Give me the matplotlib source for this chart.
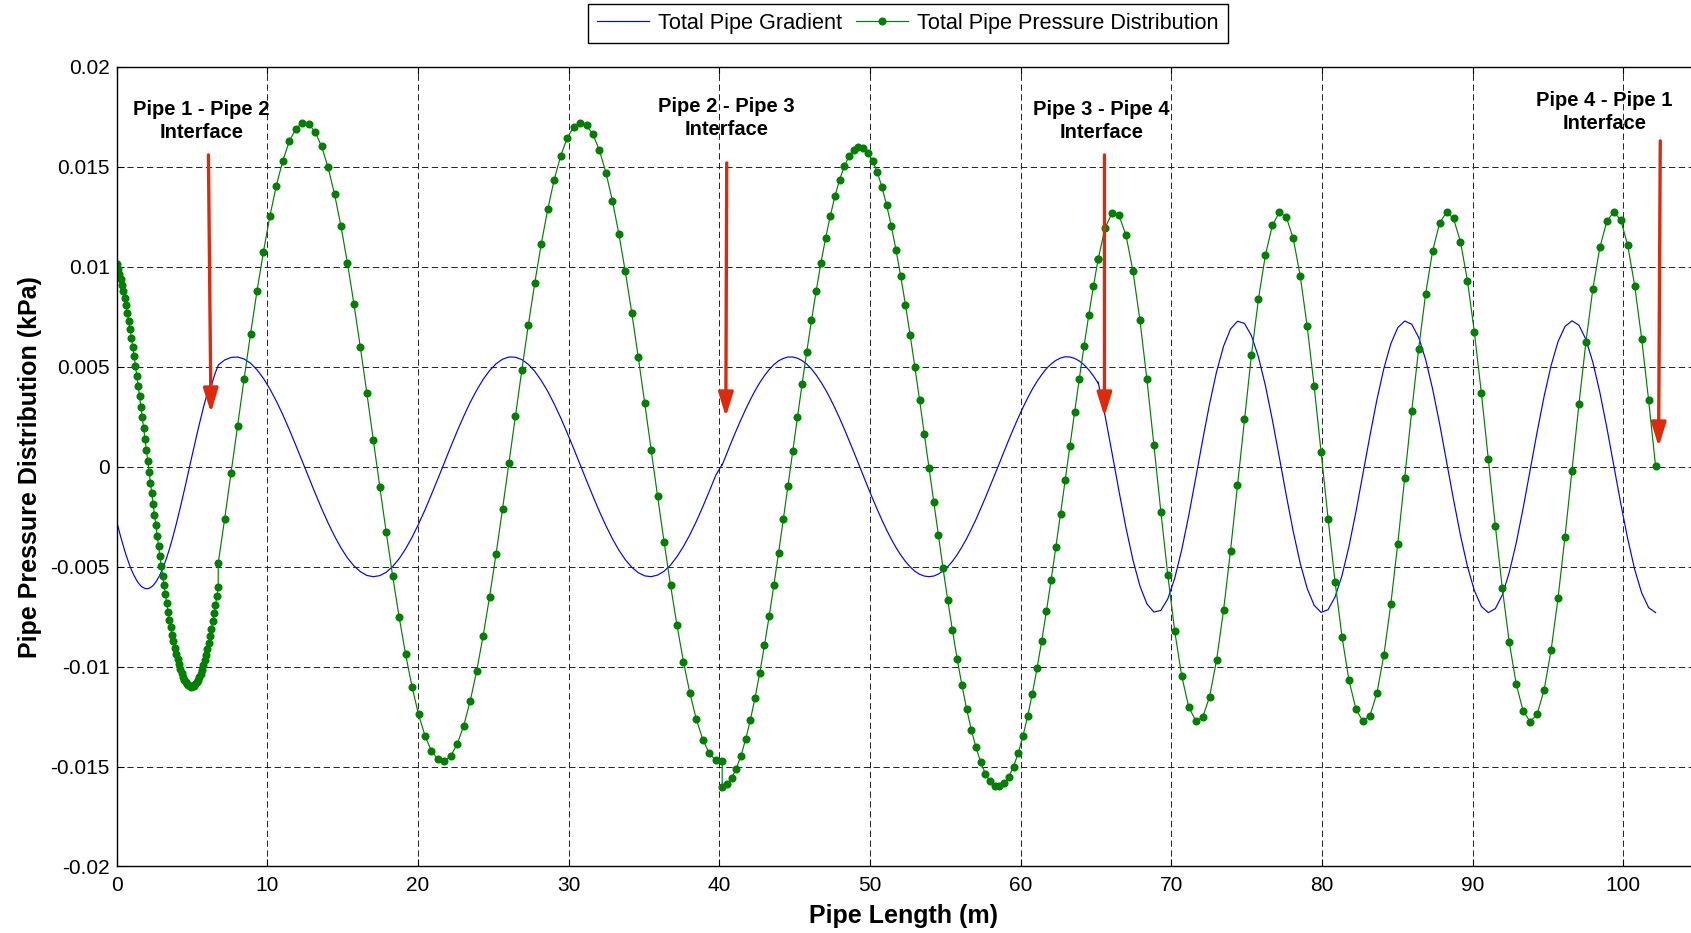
import numpy as np
import matplotlib.pyplot as plt
from matplotlib.ticker import FuncFormatter

plt.rcParams['font.family'] = ['Liberation Sans', 'DejaVu Sans']
plt.rcParams['axes.unicode_minus'] = False

# pipe sections along the loop: start / end (m) and samples per section
seg_start = [0.0, 6.75, 40.2, 65.15]
seg_end = [6.75, 40.2, 65.15, 102.15]
seg_n = [76, 79, 81, 81]

# Total Pipe Pressure Distribution (kPa), per section
seg1_green = [0.01014, 0.00991, 0.00966, 0.00939, 0.00909, 0.00877, 0.00843, 0.00807, 0.00769, 0.00729,
              0.00687, 0.00644, 0.00599, 0.00552, 0.00504, 0.00454, 0.00404, 0.00353, 0.00300, 0.00247,
              0.00194, 0.00140, 0.00085, 0.00030, -0.00024, -0.00079, -0.00133, -0.00188, -0.00241, -0.00294,
              -0.00347, -0.00398, -0.00449, -0.00498, -0.00546, -0.00593, -0.00639, -0.00682, -0.00725, -0.00765,
              -0.00803, -0.00840, -0.00874, -0.00906, -0.00936, -0.00964, -0.00989, -0.01011, -0.01032, -0.01050,
              -0.01065, -0.01077, -0.01087, -0.01094, -0.01098, -0.01100, -0.01099, -0.01095, -0.01089, -0.01079,
              -0.01068, -0.01053, -0.01036, -0.01016, -0.00994, -0.00969, -0.00942, -0.00913, -0.00881, -0.00847,
              -0.00812, -0.00774, -0.00734, -0.00692, -0.00649, -0.00604]
seg2_green = [-0.00483, -0.00260, -0.00029, 0.00205, 0.00438, 0.00664, 0.00878, 0.01076, 0.01254, 0.01407,
              0.01532, 0.01628, 0.01691, 0.01720, 0.01715, 0.01675, 0.01603, 0.01498, 0.01364, 0.01203,
              0.01019, 0.00815, 0.00597, 0.00369, 0.00135, -0.00099, -0.00328, -0.00547, -0.00752, -0.00938,
              -0.01102, -0.01239, -0.01346, -0.01422, -0.01464, -0.01473, -0.01447, -0.01387, -0.01295, -0.01172,
              -0.01022, -0.00846, -0.00650, -0.00437, -0.00212, 0.00020, 0.00255, 0.00486, 0.00710, 0.00921,
              0.01116, 0.01288, 0.01436, 0.01555, 0.01644, 0.01700, 0.01722, 0.01709, 0.01663, 0.01583,
              0.01472, 0.01332, 0.01166, 0.00977, 0.00771, 0.00550, 0.00320, 0.00086, -0.00148, -0.00375,
              -0.00592, -0.00793, -0.00975, -0.01133, -0.01264, -0.01365, -0.01434, -0.01469, -0.01470]
seg3_green = [-0.01600, -0.01588, -0.01558, -0.01510, -0.01445, -0.01363, -0.01266, -0.01155, -0.01030, -0.00893,
              -0.00747, -0.00592, -0.00430, -0.00264, -0.00094, 0.00077, 0.00247, 0.00414, 0.00576, 0.00732,
              0.00880, 0.01018, 0.01143, 0.01255, 0.01354, 0.01437, 0.01504, 0.01554, 0.01586, 0.01599,
              0.01595, 0.01572, 0.01532, 0.01474, 0.01399, 0.01308, 0.01203, 0.01083, 0.00952, 0.00810,
              0.00658, 0.00499, 0.00334, 0.00165, -0.00005, -0.00176, -0.00344, -0.00509, -0.00668, -0.00819,
              -0.00961, -0.01091, -0.01210, -0.01315, -0.01404, -0.01478, -0.01535, -0.01574, -0.01596, -0.01599,
              -0.01584, -0.01551, -0.01500, -0.01432, -0.01348, -0.01249, -0.01135, -0.01009, -0.00871, -0.00722,
              -0.00566, -0.00403, -0.00236, -0.00066, 0.00105, 0.00274, 0.00441, 0.00602, 0.00757, 0.00903, 0.01038]
seg4_green = [0.01038, 0.01195, 0.01269, 0.01257, 0.01158, 0.00979, 0.00733, 0.00437, 0.00110, -0.00224,
              -0.00542, -0.00824, -0.01048, -0.01201, -0.01271, -0.01254, -0.01150, -0.00967, -0.00718, -0.00420,
              -0.00092, 0.00241, 0.00559, 0.00837, 0.01058, 0.01207, 0.01272, 0.01250, 0.01142, 0.00955,
              0.00703, 0.00403, 0.00074, -0.00259, -0.00575, -0.00851, -0.01069, -0.01213, -0.01273, -0.01246,
              -0.01134, -0.00944, -0.00688, -0.00385, -0.00056, 0.00277, 0.00591, 0.00865, 0.01079, 0.01218,
              0.01274, 0.01242, 0.01125, 0.00931, 0.00672, 0.00368, 0.00038, -0.00295, -0.00607, -0.00878,
              -0.01088, -0.01223, -0.01275, -0.01238, -0.01117, -0.00919, -0.00657, -0.00350, -0.00020, 0.00313,
              0.00623, 0.00891, 0.01097, 0.01228, 0.01275, 0.01234, 0.01108, 0.00906, 0.00641, 0.00333, 0.00002]

# Total Pipe Gradient, per section
seg1_blue = [-0.00270, -0.00297, -0.00323, -0.00349, -0.00373, -0.00397, -0.00419, -0.00441, -0.00461, -0.00480,
             -0.00499, -0.00516, -0.00531, -0.00545, -0.00558, -0.00570, -0.00580, -0.00589, -0.00596, -0.00602,
             -0.00606, -0.00609, -0.00610, -0.00610, -0.00608, -0.00605, -0.00600, -0.00594, -0.00586, -0.00577,
             -0.00566, -0.00554, -0.00541, -0.00526, -0.00510, -0.00493, -0.00474, -0.00455, -0.00434, -0.00412,
             -0.00389, -0.00365, -0.00340, -0.00315, -0.00288, -0.00261, -0.00234, -0.00205, -0.00176, -0.00147,
             -0.00117, -0.00088, -0.00057, -0.00027, 0.00003, 0.00034, 0.00064, 0.00094, 0.00124, 0.00153,
             0.00183, 0.00211, 0.00239, 0.00267, 0.00294, 0.00320, 0.00346, 0.00370, 0.00394, 0.00380,
             0.00405, 0.00430, 0.00452, 0.00472, 0.00490, 0.00505]
seg2_blue = [0.00509, 0.00534, 0.00547, 0.00549, 0.00539, 0.00518, 0.00485, 0.00442, 0.00389, 0.00328,
             0.00260, 0.00186, 0.00108, 0.00028, -0.00052, -0.00132, -0.00209, -0.00281, -0.00347, -0.00406,
             -0.00456, -0.00496, -0.00525, -0.00544, -0.00550, -0.00545, -0.00528, -0.00499, -0.00460, -0.00411,
             -0.00353, -0.00287, -0.00216, -0.00139, -0.00060, 0.00021, 0.00101, 0.00179, 0.00253, 0.00322,
             0.00383, 0.00437, 0.00481, 0.00515, 0.00538, 0.00549, 0.00548, 0.00536, 0.00512, 0.00477,
             0.00431, 0.00377, 0.00314, 0.00245, 0.00170, 0.00092, 0.00011, -0.00069, -0.00148, -0.00224,
             -0.00295, -0.00360, -0.00417, -0.00465, -0.00503, -0.00530, -0.00546, -0.00550, -0.00542, -0.00523,
             -0.00492, -0.00450, -0.00399, -0.00340, -0.00273, -0.00200, -0.00123, -0.00043, 0.00012]
seg3_blue = [0.00009, 0.00068, 0.00126, 0.00182, 0.00236, 0.00288, 0.00336, 0.00381, 0.00421, 0.00456,
             0.00486, 0.00511, 0.00530, 0.00542, 0.00549, 0.00549, 0.00543, 0.00531, 0.00513, 0.00489,
             0.00459, 0.00424, 0.00385, 0.00341, 0.00293, 0.00242, 0.00188, 0.00131, 0.00074, 0.00015,
             -0.00044, -0.00102, -0.00159, -0.00214, -0.00267, -0.00317, -0.00363, -0.00405, -0.00442, -0.00474,
             -0.00501, -0.00523, -0.00538, -0.00547, -0.00550, -0.00547, -0.00537, -0.00521, -0.00500, -0.00473,
             -0.00440, -0.00402, -0.00360, -0.00313, -0.00264, -0.00210, -0.00155, -0.00098, -0.00040, 0.00019,
             0.00077, 0.00135, 0.00191, 0.00245, 0.00296, 0.00344, 0.00388, 0.00427, 0.00461, 0.00491,
             0.00514, 0.00532, 0.00544, 0.00550, 0.00549, 0.00542, 0.00529, 0.00510, 0.00485, 0.00454, 0.00418]
seg4_blue = [0.00424, 0.00255, 0.00068, -0.00123, -0.00306, -0.00467, -0.00597, -0.00686, -0.00727, -0.00719,
             -0.00661, -0.00557, -0.00415, -0.00245, -0.00058, 0.00133, 0.00315, 0.00476, 0.00603, 0.00689,
             0.00728, 0.00717, 0.00656, 0.00550, 0.00407, 0.00235, 0.00048, -0.00143, -0.00324, -0.00483,
             -0.00609, -0.00693, -0.00729, -0.00715, -0.00652, -0.00544, -0.00398, -0.00225, -0.00037, 0.00154,
             0.00334, 0.00491, 0.00615, 0.00696, 0.00729, 0.00713, 0.00647, 0.00536, 0.00389, 0.00216,
             0.00027, -0.00164, -0.00343, -0.00499, -0.00620, -0.00699, -0.00730, -0.00710, -0.00642, -0.00529,
             -0.00381, -0.00206, -0.00016, 0.00174, 0.00352, 0.00506, 0.00626, 0.00702, 0.00730, 0.00708,
             0.00637, 0.00522, 0.00372, 0.00196, 0.00006, -0.00184, -0.00361, -0.00514, -0.00631, -0.00705, -0.00730]

# interface annotations
iface_labels = ['Pipe 1 - Pipe 2\nInterface', 'Pipe 2 - Pipe 3\nInterface',
                'Pipe 3 - Pipe 4\nInterface', 'Pipe 4 - Pipe 1\nInterface']
iface_text_x = [5.65, 40.5, 65.35, 98.75]
iface_text_y = [0.0173, 0.01745, 0.0173, 0.01775]
arrow_tail_x = [6.1, 40.5, 65.57, 102.46]
arrow_tail_y = [0.0156, 0.0152, 0.0156, 0.0163]
arrow_tip_x = [6.27, 40.44, 65.57, 102.35]
arrow_tip_y = [0.0027, 0.0025, 0.0025, 0.0010]

x = np.concatenate([np.linspace(a, b, n) for a, b, n in zip(seg_start, seg_end, seg_n)])
green = np.concatenate([seg1_green, seg2_green, seg3_green, seg4_green])
blue = np.concatenate([seg1_blue, seg2_blue, seg3_blue, seg4_blue])

fig = plt.figure(figsize=(16.91, 9.33), dpi=100)
ax = fig.add_axes([0.0689, 0.0713, 0.9311, 0.8569])

ax.plot(x, blue, color='#0000ff', linewidth=0.85, label='Total Pipe Gradient')
ax.plot(x, green, color='#008000', linewidth=0.85, marker='o', markersize=5.8,
        markeredgewidth=0, label='Total Pipe Pressure Distribution')

for lab, tx, ty, x0, y0, x1, y1 in zip(iface_labels, iface_text_x, iface_text_y,
                                        arrow_tail_x, arrow_tail_y, arrow_tip_x, arrow_tip_y):
    ax.text(tx, ty, lab, ha='center', va='center', fontsize=14.5, fontweight='bold',
            linespacing=1.25)
    ax.annotate('', xy=(x1, y1), xytext=(x0, y0),
                arrowprops=dict(arrowstyle='-|>,head_length=1.45,head_width=0.45',
                                color='#dc2a0a', lw=2.4, shrinkA=0, shrinkB=0))

ax.set_xlim(0, 104.5)
ax.set_ylim(-0.02, 0.02)
ax.set_xticks(np.arange(0, 101, 10))
ax.set_yticks(np.arange(-0.02, 0.0201, 0.005))
ax.yaxis.set_major_formatter(FuncFormatter(lambda v, p: '%g' % round(v, 4)))
ax.tick_params(direction='in', top=True, right=False, labelsize=15, pad=5, length=5)
ax.tick_params(axis='x', pad=6.5)
ax.spines['right'].set_visible(False)
for s in ['left', 'bottom', 'top']:
    ax.spines[s].set_linewidth(1.0)
ax.grid(True, color='#222222', linestyle=(0, (6.5, 3.6)), linewidth=0.7)
ax.set_axisbelow(True)

ax.set_xlabel('Pipe Length (m)', fontsize=18, fontweight='bold', labelpad=6.5)
ax.set_ylabel('Pipe Pressure Distribution (kPa)', fontsize=18, fontweight='bold', labelpad=6)

leg = ax.legend(loc='lower center', bbox_to_anchor=(0.5367, 0.9539), bbox_transform=fig.transFigure,
                ncol=2, fontsize=15.6, frameon=True, fancybox=False, framealpha=1,
                edgecolor='black', handlelength=2.4, handletextpad=0.42, columnspacing=0.65,
                borderpad=0.42, borderaxespad=0)
leg.get_frame().set_linewidth(1.0)

fig.savefig('out.png', dpi=100)
